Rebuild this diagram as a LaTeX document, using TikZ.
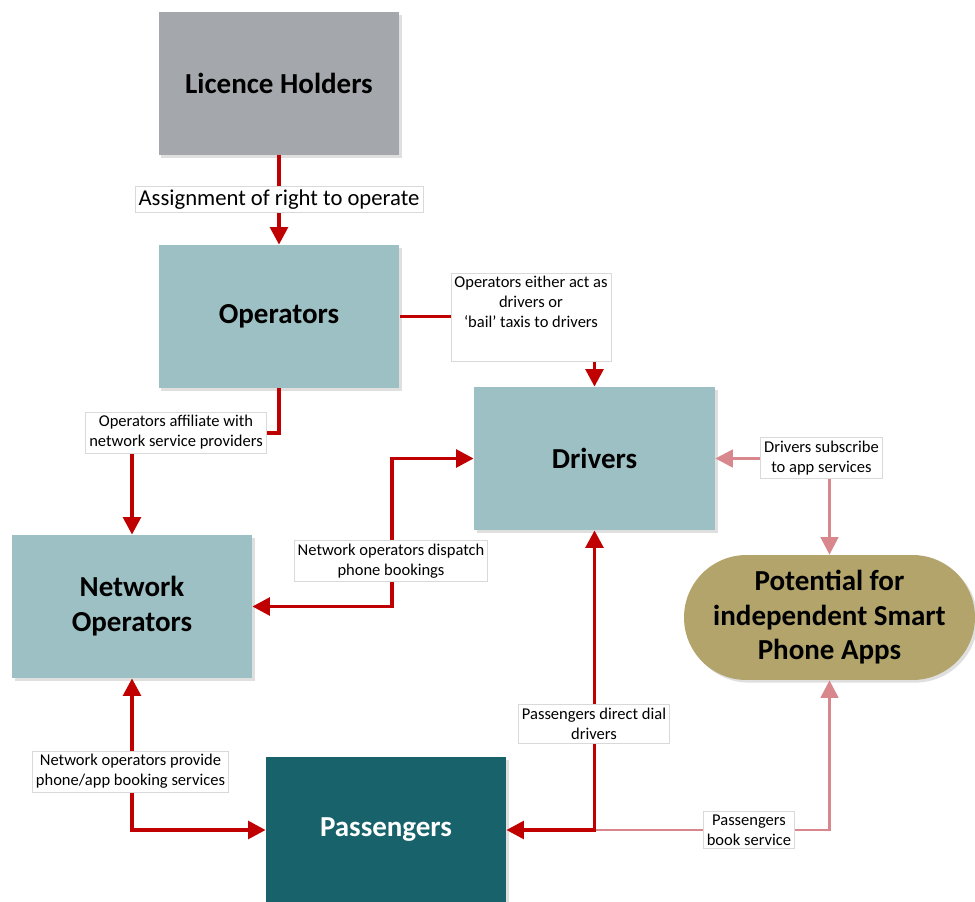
\documentclass[tikz,border=0pt]{standalone}
\usepackage{fontspec}
\setmainfont{Carlito}
\usetikzlibrary{arrows.meta,shadows}

\definecolor{linkred}{HTML}{C00000}
\definecolor{softred}{HTML}{D8878C}
\definecolor{holdergrey}{HTML}{A4A8AC}
\definecolor{lightteal}{HTML}{9CC0C3}
\definecolor{deepteal}{HTML}{17626B}
\definecolor{appolive}{HTML}{B2A46A}

\tikzset{
  party/.style={minimum width=4.82cm, minimum height=2.86cm, inner sep=0pt, align=center,
    font=\fontsize{16.5}{20}\selectfont\bfseries,
    drop shadow={shadow xshift=1.5pt, shadow yshift=-1.5pt, opacity=0.25}},
  tag/.style={fill=white, draw=black!15, line width=0.4pt, inner sep=2pt, align=center,
    font=\fontsize{9.4}{11.3}\selectfont},
  link/.style={draw=linkred, line width=2.2pt, line join=miter},
  softlink/.style={draw=softred, line width=1.7pt, line join=miter}
}

\begin{document}
\begin{tikzpicture}[x=0.02cm, y=-0.02cm, >={Triangle[length=10pt,width=10pt]}]
\useasboundingbox (0,0) rectangle (975,902);

\node[party, fill=holdergrey] (holders) at (279,83.5) {Licence Holders};
\node[party, fill=lightteal] (operators) at (279,316.5) {Operators};
\node[party, fill=lightteal] (drivers) at (594.5,458.5) {Drivers};
\node[party, fill=lightteal, minimum width=4.8cm] (network) at (132,606.5) {Network\\Operators};
\node[party, fill=deepteal, text=white, minimum width=4.8cm, minimum height=2.92cm] (passengers) at (386,830) {Passengers};
\node[party, fill=appolive, minimum width=5.82cm, minimum height=2.5cm, rounded corners=1.25cm,
  font=\fontsize{16.5}{19.6}\selectfont\bfseries] (apps) at (829.5,617.5) {Potential for\\independent Smart\\Phone Apps};

\draw[softlink, <->] (drivers.east) -| (apps.north);
\draw[softlink, ->] (594,830) -| (apps.south);

\draw[link, ->] (holders) -- (operators);
\draw[link, ->] (operators.east) -| (drivers.north);
\draw[link, ->] (operators.south) -- (279,433) -| (network.north);
\draw[link, <->] (network.east) -| (392,530) |- (drivers.west);
\draw[link, <->] (network.south) |- (passengers.west);
\draw[link, <->] (drivers.south) |- (passengers.east);

\node[tag, font=\fontsize{12.9}{15}\selectfont] (assign) at (279,199.5) {Assignment of right to operate};
\node[tag, minimum width=3.16cm, minimum height=1.6cm, text depth=0.6cm] (either) at (531,317) {Operators either act as\\drivers or\\`bail' taxis to drivers};
\node[tag] (affiliate) at (176,432.5) {Operators affiliate with\\network service providers};
\node[tag] (dispatch) at (391,561) {Network operators dispatch\\phone bookings};
\node[tag] (provide) at (130.5,771.5) {Network operators provide\\phone/app booking services};
\node[tag, minimum width=2.96cm] (direct) at (594,724) {Passengers direct dial\\drivers};
\node[tag] (subscribe) at (821.5,458) {Drivers subscribe\\to app services};
\node[tag] (book) at (749,830) {Passengers\\book service};
\end{tikzpicture}
\end{document}
